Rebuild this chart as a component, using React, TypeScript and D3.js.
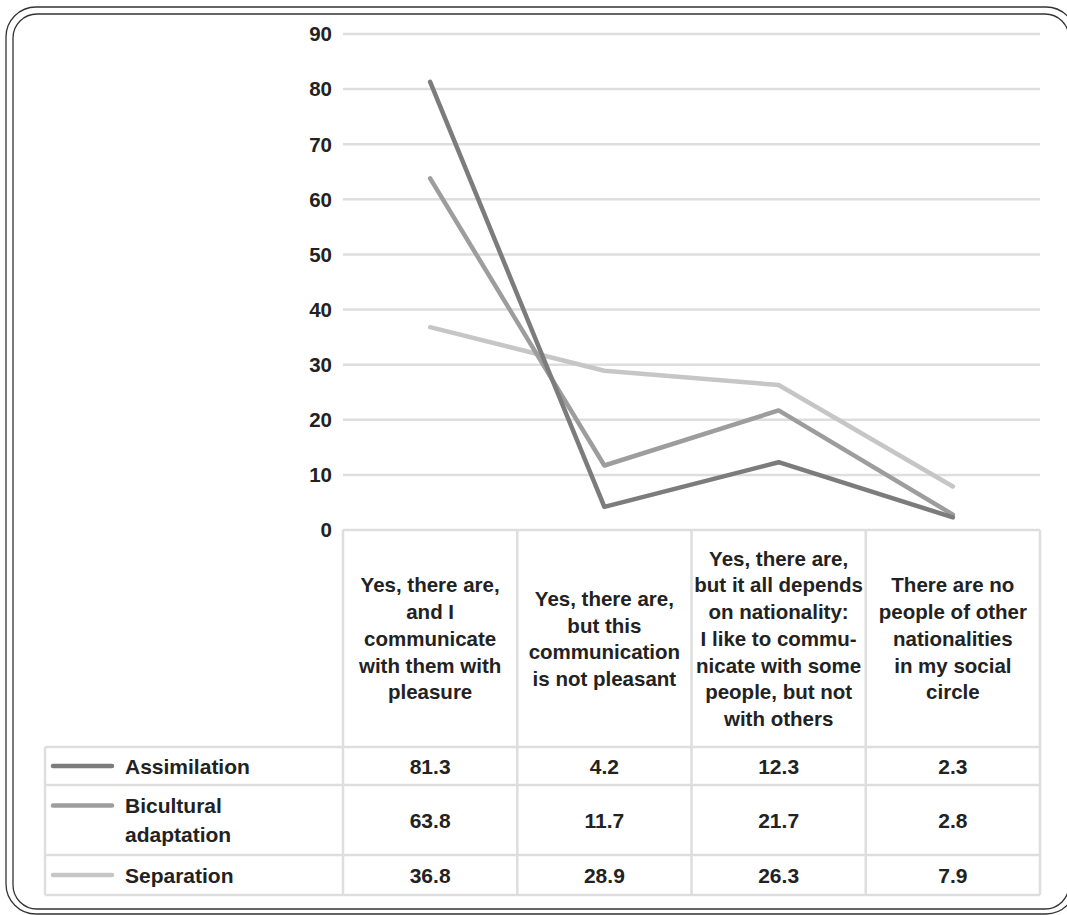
import React, { useRef, useEffect } from "react";
import * as d3 from "d3";

const categories = [
  ["Yes, there are,", "and I", "communicate", "with them with", "pleasure"],
  ["Yes, there are,", "but this", "communication", "is not pleasant"],
  [
    "Yes, there are,",
    "but it all depends",
    "on nationality:",
    "I like to commu-",
    "nicate with some",
    "people, but not",
    "with others",
  ],
  ["There are no", "people of other", "nationalities", "in my social", "circle"],
];

const seriesNames = [["Assimilation"], ["Bicultural", "adaptation"], ["Separation"]];
const assimilation = [81.3, 4.2, 12.3, 2.3];
const bicultural = [63.8, 11.7, 21.7, 2.8];
const separation = [36.8, 28.9, 26.3, 7.9];
const yTicks = [0, 10, 20, 30, 40, 50, 60, 70, 80, 90];

const series = [
  { name: seriesNames[0], values: assimilation, color: "#7c7c7c" },
  { name: seriesNames[1], values: bicultural, color: "#9d9d9d" },
  { name: seriesNames[2], values: separation, color: "#c6c6c6" },
];

const W = 1067;
const H = 915;
const FONT = "'Liberation Sans', Arial, sans-serif";

const Chart = () => {
  const svgRef = useRef<SVGSVGElement>(null);

  useEffect(() => {
    const svg = d3.select(svgRef.current);
    svg.selectAll("*").remove();

    const plotLeft = 343;
    const plotRight = 1040;
    const tableLeft = 45;
    const headerBottom = 747;
    const rowEdges = [747, 785, 855, 895];
    const lineH = 26.7;
    const gridColor = "#dedede";
    const textColor = "#222";

    const x = d3
      .scaleBand<number>()
      .domain(d3.range(categories.length))
      .range([plotLeft, plotRight]);

    const y = d3.scaleLinear().domain([0, 90]).range([530, 34]);

    // frame (double rounded border)
    svg
      .append("rect")
      .attr("x", 6)
      .attr("y", 7)
      .attr("width", 1070)
      .attr("height", 907)
      .attr("rx", 30)
      .attr("fill", "none")
      .attr("stroke", "#333")
      .attr("stroke-width", 1.3);
    svg
      .append("rect")
      .attr("x", 13)
      .attr("y", 14)
      .attr("width", 1056)
      .attr("height", 895)
      .attr("rx", 24)
      .attr("fill", "none")
      .attr("stroke", "#333")
      .attr("stroke-width", 1.3);

    // gridlines
    svg
      .append("g")
      .selectAll("line")
      .data(yTicks.filter((t) => t > 0))
      .join("line")
      .attr("x1", plotLeft)
      .attr("x2", plotRight)
      .attr("y1", (d) => y(d))
      .attr("y2", (d) => y(d))
      .attr("stroke", gridColor)
      .attr("stroke-width", 2.5);

    // y labels
    svg
      .append("g")
      .selectAll("text")
      .data(yTicks)
      .join("text")
      .attr("x", 332)
      .attr("y", (d) => y(d))
      .attr("dy", "0.36em")
      .attr("text-anchor", "end")
      .attr("font-family", FONT)
      .attr("font-weight", "bold")
      .attr("font-size", 20.5)
      .attr("fill", textColor)
      .text((d) => d);

    // table lines
    const tbl = svg.append("g").attr("stroke", gridColor).attr("stroke-width", 2.5);
    tbl
      .append("line")
      .attr("x1", plotLeft)
      .attr("x2", plotRight)
      .attr("y1", y(0))
      .attr("y2", y(0));
    rowEdges.forEach((ry) => {
      tbl
        .append("line")
        .attr("x1", tableLeft)
        .attr("x2", plotRight)
        .attr("y1", ry)
        .attr("y2", ry);
    });
    tbl
      .append("line")
      .attr("x1", tableLeft)
      .attr("x2", tableLeft)
      .attr("y1", headerBottom)
      .attr("y2", rowEdges[rowEdges.length - 1]);
    d3.range(categories.length + 1).forEach((i) => {
      const xx = i < categories.length ? (x(i) as number) : plotRight;
      tbl
        .append("line")
        .attr("x1", xx)
        .attr("x2", xx)
        .attr("y1", y(0))
        .attr("y2", rowEdges[rowEdges.length - 1]);
    });

    // category headers
    const headerMid = (y(0) + headerBottom) / 2;
    categories.forEach((lines, i) => {
      const cx = (x(i) as number) + x.bandwidth() / 2;
      const t = svg
        .append("text")
        .attr("text-anchor", "middle")
        .attr("font-family", FONT)
        .attr("font-weight", "bold")
        .attr("font-size", 20.5)
        .attr("fill", textColor);
      lines.forEach((ln, j) => {
        t.append("tspan")
          .attr("x", cx)
          .attr("y", headerMid + (j - (lines.length - 1) / 2) * lineH)
          .attr("dy", "0.36em")
          .text(ln);
      });
    });

    // series rows: legend key, name, values
    series.forEach((s, si) => {
      const mid = (rowEdges[si] + rowEdges[si + 1]) / 2;
      const nameTop = mid - ((s.name.length - 1) / 2) * 29;
      svg
        .append("line")
        .attr("x1", 53)
        .attr("x2", 112)
        .attr("y1", nameTop)
        .attr("y2", nameTop)
        .attr("stroke", s.color)
        .attr("stroke-width", 4.5)
        .attr("stroke-linecap", "round");
      const t = svg
        .append("text")
        .attr("font-family", FONT)
        .attr("font-weight", "bold")
        .attr("font-size", 21)
        .attr("fill", textColor);
      s.name.forEach((ln, j) => {
        t.append("tspan")
          .attr("x", 125)
          .attr("y", nameTop + j * 29)
          .attr("dy", "0.36em")
          .text(ln);
      });
      svg
        .append("g")
        .selectAll("text")
        .data(s.values)
        .join("text")
        .attr("x", (_d, i) => (x(i) as number) + x.bandwidth() / 2)
        .attr("y", mid)
        .attr("dy", "0.36em")
        .attr("text-anchor", "middle")
        .attr("font-family", FONT)
        .attr("font-weight", "bold")
        .attr("font-size", 21)
        .attr("fill", textColor)
        .text((d) => d.toFixed(1));
    });

    // lines (lightest underneath)
    const line = d3
      .line<number>()
      .x((_d, i) => (x(i) as number) + x.bandwidth() / 2)
      .y((d) => y(d));

    [...series].reverse().forEach((s) => {
      svg
        .append("path")
        .datum(s.values)
        .attr("fill", "none")
        .attr("stroke", s.color)
        .attr("stroke-width", 4.5)
        .attr("stroke-linecap", "round")
        .attr("stroke-linejoin", "round")
        .attr("d", line);
    });
  }, []);

  return (
    <svg
      ref={svgRef}
      width={W}
      height={H}
      style={{ position: "absolute", left: 0, top: 0, background: "#fff" }}
    ></svg>
  );
};

export default function App() {
  return <Chart />;
}
